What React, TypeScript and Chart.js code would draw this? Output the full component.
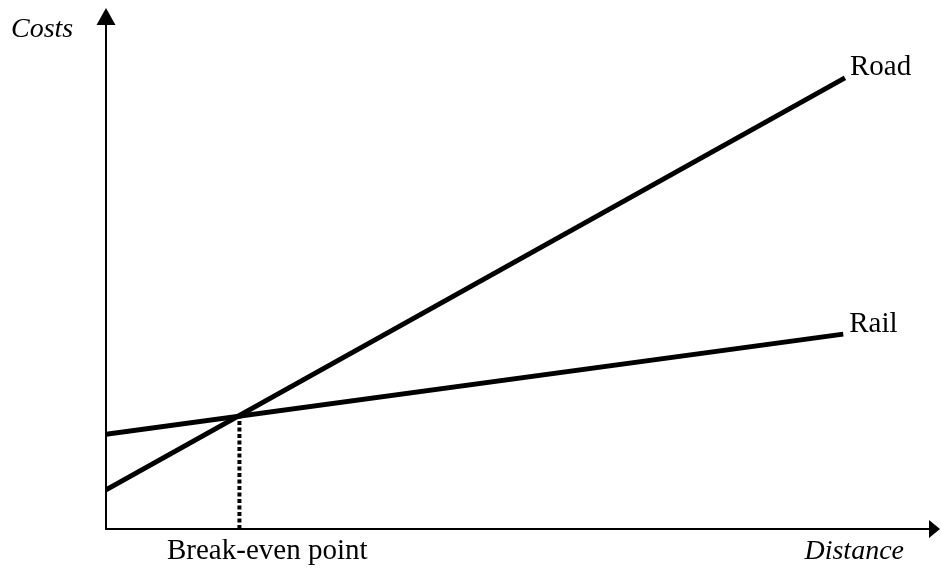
import React, { useEffect, useRef } from "react";
import { Chart, registerables } from "chart.js";

Chart.register(...registerables);

const roadX = [0, 88.6];
const roadY = [7.5, 86.6];
const railX = [0, 88.4];
const railY = [18.2, 37.4];
const breakEvenX = [16, 16];
const breakEvenY = [0, 21.6];
const axisTitles = ["Costs", "Distance"];
const seriesNames = ["Road", "Rail"];
const pointLabel = "Break-even point";

const toPts = (xs: number[], ys: number[]) => xs.map((x, i) => ({ x, y: ys[i] }));

const decorPlugin = {
  id: "decor",
  afterDatasetsDraw(chart: any) {
    const { ctx, scales } = chart;
    const xs = scales.x;
    const ys = scales.y;
    const ox = xs.getPixelForValue(0);
    const oy = ys.getPixelForValue(0);
    const top = ys.getPixelForValue(100);
    const right = xs.getPixelForValue(100);
    ctx.save();
    ctx.strokeStyle = "#000";
    ctx.fillStyle = "#000";
    ctx.lineWidth = 2;
    // y axis
    ctx.beginPath();
    ctx.moveTo(ox, oy + 1);
    ctx.lineTo(ox, top + 14);
    ctx.stroke();
    ctx.beginPath();
    ctx.moveTo(ox, top);
    ctx.lineTo(ox - 9.5, top + 17);
    ctx.lineTo(ox + 9.5, top + 17);
    ctx.closePath();
    ctx.fill();
    // x axis
    ctx.beginPath();
    ctx.moveTo(ox - 1, oy);
    ctx.lineTo(right - 8, oy);
    ctx.stroke();
    ctx.beginPath();
    ctx.moveTo(right, oy);
    ctx.lineTo(right - 11, oy - 9);
    ctx.lineTo(right - 11, oy + 9);
    ctx.closePath();
    ctx.fill();
    // texts
    ctx.textBaseline = "alphabetic";
    ctx.font = "italic 28px 'Liberation Serif', 'Times New Roman', serif";
    ctx.textAlign = "left";
    ctx.fillText(axisTitles[0], 11, 37);
    ctx.textAlign = "right";
    ctx.fillText(axisTitles[1], 904, 559);
    ctx.font = "29px 'Liberation Serif', 'Times New Roman', serif";
    ctx.textAlign = "left";
    const roadEnd = chart.getDatasetMeta(0).data[1];
    const railEnd = chart.getDatasetMeta(1).data[1];
    ctx.fillText(seriesNames[0], roadEnd.x + 5, roadEnd.y - 3);
    ctx.fillText(seriesNames[1], railEnd.x + 6, railEnd.y - 2);
    ctx.fillText(pointLabel, 167, 559);
    ctx.restore();
  },
};

export default function App() {
  const ref = useRef<HTMLCanvasElement | null>(null);
  useEffect(() => {
    if (!ref.current) return;
    const chart = new Chart(ref.current, {
      type: "line",
      data: {
        datasets: [
          {
            label: seriesNames[0],
            data: toPts(roadX, roadY),
            borderColor: "#000",
            borderWidth: 5,
            pointRadius: 0,
            borderCapStyle: "butt",
          },
          {
            label: seriesNames[1],
            data: toPts(railX, railY),
            borderColor: "#000",
            borderWidth: 5,
            pointRadius: 0,
            borderCapStyle: "butt",
          },
          {
            label: pointLabel,
            data: toPts(breakEvenX, breakEvenY),
            borderColor: "#000",
            borderWidth: 4,
            borderDash: [4, 2.5],
            pointRadius: 0,
          },
        ],
      },
      options: {
        responsive: false,
        animation: false,
        layout: { padding: { left: 106, right: 1, top: 8, bottom: 41 } },
        plugins: { legend: { display: false }, tooltip: { enabled: false } },
        scales: {
          x: { type: "linear", min: 0, max: 100, display: false },
          y: { type: "linear", min: 0, max: 100, display: false },
        },
      },
      plugins: [decorPlugin],
    });
    return () => chart.destroy();
  }, []);
  return (
    <div style={{ position: "fixed", left: 0, top: 0, width: 941, height: 570, background: "#fff" }}>
      <canvas ref={ref} width={941} height={570} />
    </div>
  );
}
